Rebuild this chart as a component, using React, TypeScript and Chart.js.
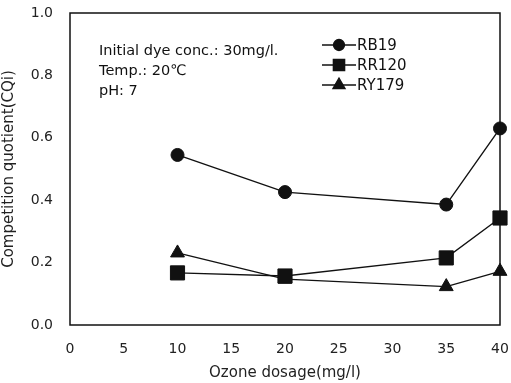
import React, { useEffect, useRef } from "react";
import { Chart, registerables } from "chart.js";
import { drawPoint } from "chart.js/helpers";

Chart.register(...registerables);

const dosage = [10, 20, 35, 40];
const rb19 = [0.545, 0.426, 0.386, 0.63];
const rr120 = [0.167, 0.157, 0.215, 0.343];
const ry179 = [0.231, 0.147, 0.123, 0.172];
const seriesNames = ["RB19", "RR120", "RY179"];
const pointStyles = ["circle", "rect", "triangle"];
const pointRadii = [6.5, 10, 8];
const legendRadii = [5.5, 8, 7];
const notes = ["Initial dye conc.: 30mg/l.", "Temp.: 20\u2103", "pH: 7"];
const xTicks = { min: 0, max: 40, step: 5 };
const yTicks = { min: 0, max: 1, step: 0.2 };

const FONT = "'DejaVu Sans', sans-serif";

const overlay = {
  id: "overlay",
  afterDraw(chart: any) {
    const { ctx, chartArea } = chart;
    const { left, top, right, bottom } = chartArea;
    ctx.save();
    ctx.strokeStyle = "#111";
    ctx.lineWidth = 1.5;
    ctx.strokeRect(left, top, right - left, bottom - top);

    // notes
    ctx.fillStyle = "#111";
    ctx.font = `14.5px ${FONT}`;
    ctx.textBaseline = "middle";
    ctx.textAlign = "left";
    notes.forEach((t, i) => {
      ctx.fillText(t, left + 29, top + 38 + i * 20);
    });

    // legend
    seriesNames.forEach((name, i) => {
      const y = top + 32 + i * 20;
      const x0 = left + 252;
      const x1 = left + 286;
      ctx.strokeStyle = "#111";
      ctx.lineWidth = 1.3;
      ctx.beginPath();
      ctx.moveTo(x0, y);
      ctx.lineTo(x1, y);
      ctx.stroke();
      ctx.fillStyle = "#111";
      drawPoint(ctx, { pointStyle: pointStyles[i], radius: legendRadii[i], rotation: 0, borderWidth: 1 }, (x0 + x1) / 2, y);
      ctx.fillStyle = "#111";
      ctx.font = `15px ${FONT}`;
      ctx.textBaseline = "middle";
      ctx.textAlign = "left";
      ctx.fillText(name, x1 + 1, y + 1);
    });
    ctx.restore();
  },
};

export default function App() {
  const ref = useRef<HTMLCanvasElement>(null);
  useEffect(() => {
    document.body.style.margin = "0";
    const ds = [rb19, rr120, ry179].map((vals, i) => ({
      label: seriesNames[i],
      data: dosage.map((x, j) => ({ x, y: vals[j] })),
      borderColor: "#111",
      backgroundColor: "#111",
      borderWidth: 1.4,
      pointStyle: pointStyles[i],
      pointRadius: pointRadii[i],
      pointBorderWidth: 1,
      pointBackgroundColor: "#111",
      pointBorderColor: "#111",
      tension: 0,
      clip: false,
    }));
    const chart = new Chart(ref.current!, {
      type: "line",
      data: { datasets: ds as any },
      options: {
        responsive: false,
        animation: false,
        layout: { padding: { top: 13, right: 9, left: 0, bottom: 0 } },
        plugins: { legend: { display: false }, tooltip: { enabled: false } },
        scales: {
          x: {
            type: "linear",
            min: xTicks.min,
            max: xTicks.max,
            afterFit: (s: any) => { s.height = 58; s.paddingLeft = 0; s.paddingRight = 0; },
            grid: { display: false, drawTicks: false },
            border: { display: false },
            ticks: {
              stepSize: xTicks.step,
              padding: 16,
              color: "#222",
              font: { family: FONT, size: 14 },
              maxRotation: 0,
            },
            title: {
              display: true,
              text: "Ozone dosage(mg/l)",
              color: "#222",
              font: { family: FONT, size: 15 },
              padding: { top: 0, bottom: 1 },
            },
          },
          y: {
            min: yTicks.min,
            max: yTicks.max,
            afterFit: (s: any) => { s.width = 70; s.paddingTop = 0; s.paddingBottom = 0; },
            grid: { display: false, drawTicks: false },
            border: { display: false },
            ticks: {
              stepSize: yTicks.step,
              padding: 17,
              color: "#222",
              font: { family: FONT, size: 14 },
              callback: (v: any) => Number(v).toFixed(1),
            },
            title: {
              display: true,
              text: "Competition quotient(CQi)",
              color: "#222",
              font: { family: FONT, size: 15 },
              padding: { top: 0, bottom: 5 },
            },
          },
        },
      },
      plugins: [overlay],
    });
    return () => chart.destroy();
  }, []);
  return (
    <div style={{ width: 511, height: 383, background: "#fff" }}>
      <canvas ref={ref} width={511} height={383} />
    </div>
  );
}
